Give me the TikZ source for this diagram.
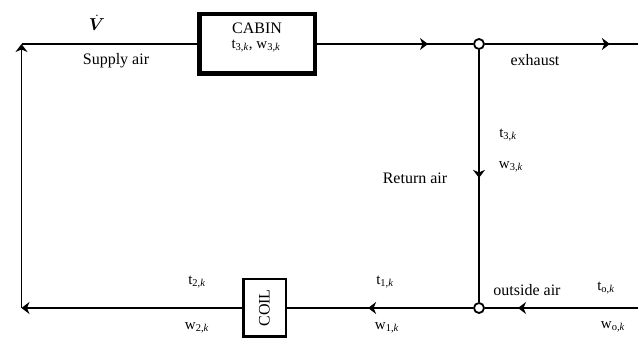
\documentclass[tikz,border=0pt]{standalone}
\usepackage{fontspec}
\setmainfont{Liberation Serif}
\usepackage{amsmath,bm}
\usetikzlibrary{arrows.meta,positioning,decorations.markings}

\newcommand{\stvar}[2]{#1\textsubscript{#2,\textit{k}}}

\begin{document}
\begin{tikzpicture}[x=1pt, y=-1pt, line width=1.8pt, >={Stealth[length=8pt,width=12pt,inset=2.5pt]},
  every node/.style={font=\fontsize{16}{19}\selectfont},
  lbl/.style={font=\fontsize{15}{17}\selectfont},
  unitbox/.style={draw, fill=white, inner sep=0pt},
  junc/.style={draw, circle, fill=white, minimum size=10pt, inner sep=0pt},
  flowarrow/.style={postaction={decorate}, decoration={markings, mark=at position #1 with {\arrow{>}}}}]
\useasboundingbox (0,0) rectangle (638,339);
% loop corners and open ends
\coordinate (tl) at (21.5,44);
\coordinate (bl) at (21.5,308);
\coordinate (tr) at (638,44);
\coordinate (br) at (638,308);
% units and mixing points
\node[unitbox, line width=4.5pt, minimum width=115.5pt, minimum height=59.5pt] (cabin) at (257,44) {};
\node[unitbox, line width=2.5pt, minimum width=42.5pt, minimum height=57.5pt] (coil) at (264.5,308) {};
\node[junc] (jtop) at (479,44) {};
\node[junc] (jbot) at (479,308) {};
% air flow
\draw (tl) -- (cabin);
\draw[flowarrow=111pt] (cabin) -- (jtop);
\draw[flowarrow=125pt] (jtop) -- (tr);
\draw[flowarrow=128pt] (jtop) -- (jbot);
\draw[flowarrow=120pt] (br) -- (jbot);
\draw[flowarrow=105pt] (jbot) -- (coil);
\draw[->] (coil) -- (bl);
\draw[->] (bl) -- (tl);
% texts
\node (cabintxt) at (257,28) {CABIN};
\node[lbl] (cabinst) at (256,46) {\stvar{t}{3}, \stvar{w}{3}};
\node[rotate=90] (coiltxt) at (coil) {COIL};
\node (vdot) at (97,23) {\fontsize{19}{21}\selectfont$\bm{\dot{V}}$};
\node (supply) at (116,61) {Supply air};
\node (exhaust) at (535,60) {exhaust};
\node (return) at (415,178) {Return air};
\node (outside) at (527,290) {outside air};
\node[lbl] (t3) at (508,135) {\stvar{t}{3}};
\node[lbl] (w3) at (511,167) {\stvar{w}{3}};
\node[lbl] (t2) at (197,282) {\stvar{t}{2}};
\node[lbl] (w2) at (197,328) {\stvar{w}{2}};
\node[lbl] (t1) at (385,282) {\stvar{t}{1}};
\node[lbl] (w1) at (387,328) {\stvar{w}{1}};
\node[lbl] (to) at (606,288) {\stvar{t}{o}};
\node[lbl] (wo) at (613,327) {\stvar{w}{o}};
\end{tikzpicture}
\end{document}
